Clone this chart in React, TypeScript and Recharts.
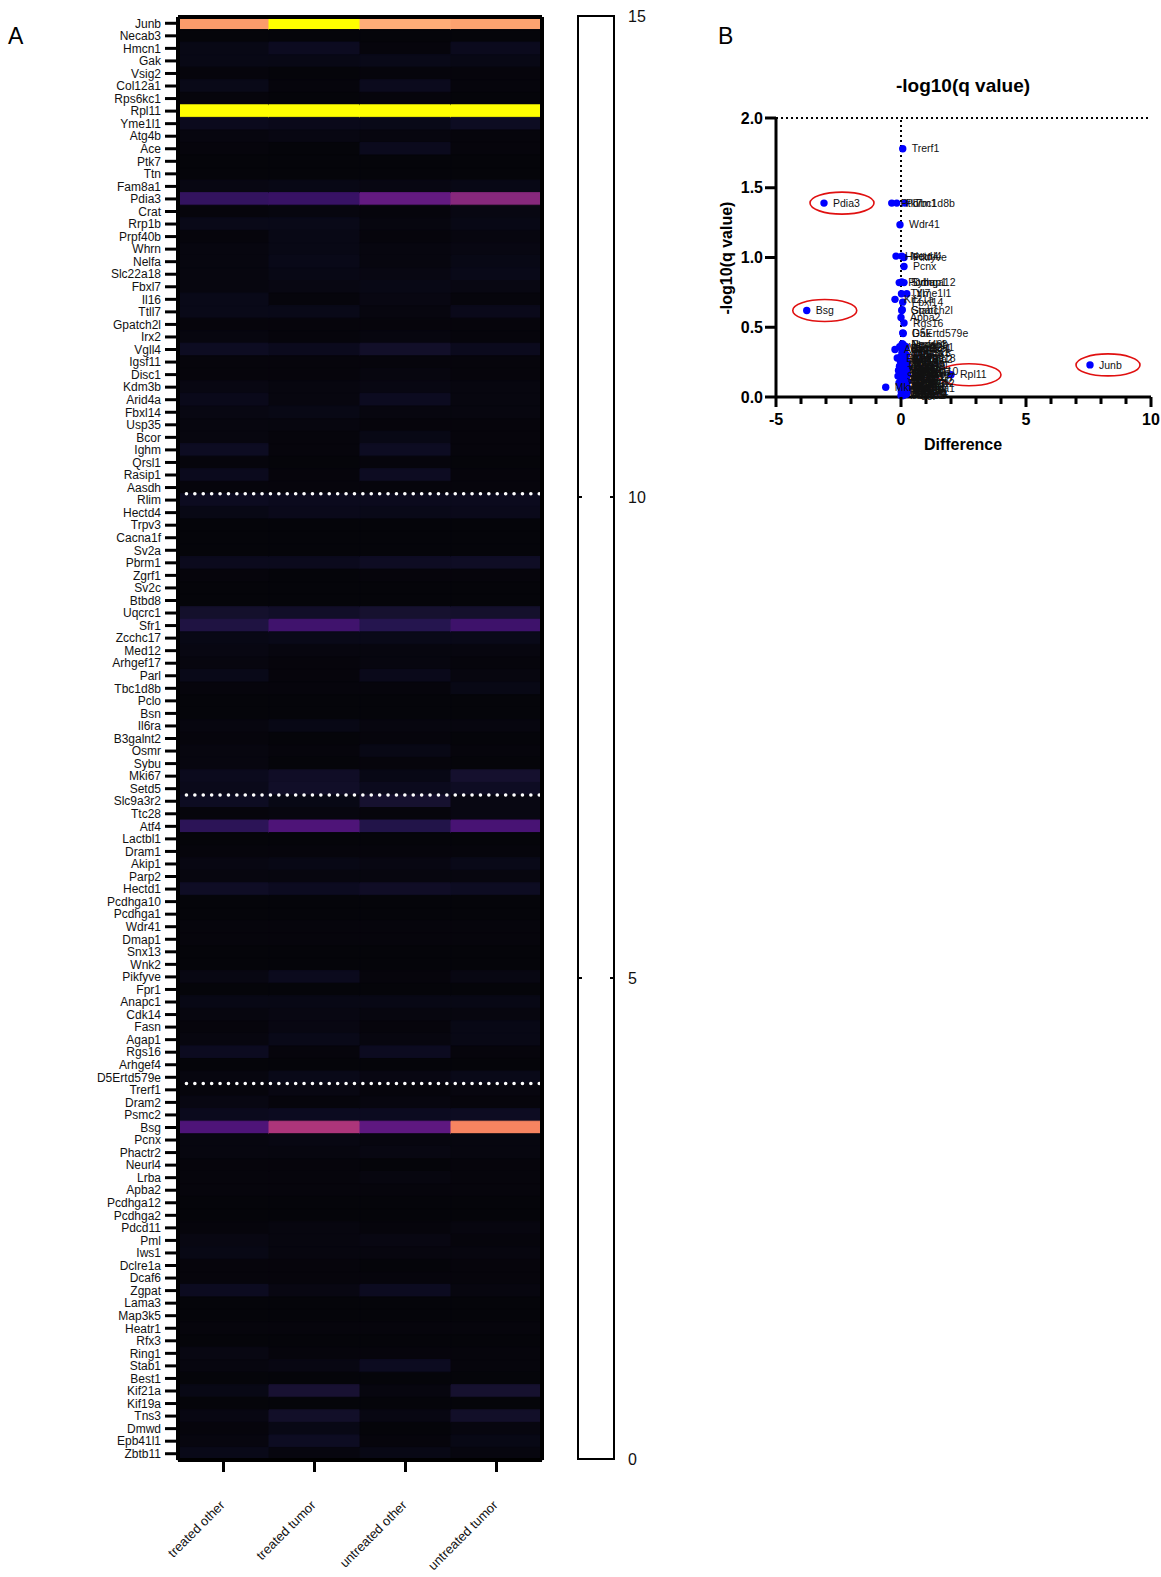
import React from 'react';
import {
  BarChart,
  Bar,
  Cell,
  XAxis,
  YAxis,
  ReferenceLine,
  ScatterChart,
  Scatter,
  LabelList,
} from 'recharts';

// ---- heatmap data (rows top to bottom) ----
const genes = [
  'Junb', 'Necab3', 'Hmcn1', 'Gak', 'Vsig2', 'Col12a1', 'Rps6kc1', 'Rpl11', 'Yme1l1', 'Atg4b',
  'Ace', 'Ptk7', 'Ttn', 'Fam8a1', 'Pdia3', 'Crat', 'Rrp1b', 'Prpf40b', 'Whrn', 'Nelfa',
  'Slc22a18', 'Fbxl7', 'Il16', 'Ttll7', 'Gpatch2l', 'Irx2', 'Vgll4', 'Igsf11', 'Disc1', 'Kdm3b',
  'Arid4a', 'Fbxl14', 'Usp35', 'Bcor', 'Ighm', 'Qrsl1', 'Rasip1', 'Aasdh', 'Rlim', 'Hectd4',
  'Trpv3', 'Cacna1f', 'Sv2a', 'Pbrm1', 'Zgrf1', 'Sv2c', 'Btbd8', 'Uqcrc1', 'Sfr1', 'Zcchc17',
  'Med12', 'Arhgef17', 'Parl', 'Tbc1d8b', 'Pclo', 'Bsn', 'Il6ra', 'B3galnt2', 'Osmr', 'Sybu',
  'Mki67', 'Setd5', 'Slc9a3r2', 'Ttc28', 'Atf4', 'Lactbl1', 'Dram1', 'Akip1', 'Parp2', 'Hectd1',
  'Pcdhga10', 'Pcdhga1', 'Wdr41', 'Dmap1', 'Snx13', 'Wnk2', 'Pikfyve', 'Fpr1', 'Anapc1', 'Cdk14',
  'Fasn', 'Agap1', 'Rgs16', 'Arhgef4', 'D5Ertd579e', 'Trerf1', 'Dram2', 'Psmc2', 'Bsg', 'Pcnx',
  'Phactr2', 'Neurl4', 'Lrba', 'Apba2', 'Pcdhga12', 'Pcdhga2', 'Pdcd11', 'Pml', 'Iws1', 'Dclre1a',
  'Dcaf6', 'Zgpat', 'Lama3', 'Map3k5', 'Heatr1', 'Rfx3', 'Ring1', 'Stab1', 'Best1', 'Kif21a',
  'Kif19a', 'Tns3', 'Dmwd', 'Epb41l1', 'Zbtb11',
];

const columns = ['treated other', 'treated tumor', 'untreated other', 'untreated tumor'];

const treatedOther = [
  11.8, 0.1, 0.3, 0.3, 0.15, 0.35, 0.15, 15, 0.45, 0.2,
  0.15, 0.1, 0.1, 0.25, 2.8, 0.15, 0.35, 0.15, 0.2, 0.2,
  0.2, 0.2, 0.35, 0.35, 0.15, 0.2, 0.55, 0.15, 0.15, 0.25,
  0.4, 0.25, 0.2, 0.2, 0.55, 0.15, 0.45, 0.15, 0.5, 0.3,
  0.1, 0.1, 0.1, 0.45, 0.15, 0.1, 0.1, 0.9, 1.6, 0.3,
  0.25, 0.2, 0.35, 0.15, 0.1, 0.1, 0.2, 0.15, 0.2, 0.2,
  0.45, 0.4, 0.55, 0.15, 2.4, 0.1, 0.15, 0.25, 0.2, 0.65,
  0.1, 0.1, 0.15, 0.15, 0.1, 0.1, 0.25, 0.1, 0.3, 0.2,
  0.15, 0.2, 0.5, 0.1, 0.2, 0.15, 0.25, 0.45, 4.2, 0.2,
  0.2, 0.15, 0.15, 0.15, 0.1, 0.1, 0.15, 0.25, 0.3, 0.15,
  0.15, 0.5, 0.1, 0.1, 0.15, 0.1, 0.25, 0.2, 0.1, 0.3,
  0.1, 0.25, 0.15, 0.2, 0.35,
];
const treatedTumor = [
  15, 0.1, 0.5, 0.3, 0.1, 0.15, 0.1, 15, 0.4, 0.25,
  0.1, 0.1, 0.1, 0.3, 3.1, 0.2, 0.35, 0.3, 0.3, 0.35,
  0.3, 0.25, 0.15, 0.35, 0.15, 0.15, 0.45, 0.15, 0.15, 0.2,
  0.2, 0.3, 0.2, 0.15, 0.15, 0.1, 0.15, 0.15, 0.45, 0.4,
  0.1, 0.1, 0.1, 0.45, 0.1, 0.1, 0.1, 0.75, 3.5, 0.35,
  0.2, 0.15, 0.15, 0.15, 0.1, 0.1, 0.3, 0.1, 0.15, 0.1,
  0.7, 0.75, 0.3, 0.2, 4.2, 0.1, 0.15, 0.3, 0.2, 0.5,
  0.1, 0.1, 0.15, 0.15, 0.1, 0.1, 0.45, 0.1, 0.3, 0.25,
  0.25, 0.35, 0.15, 0.1, 0.35, 0.25, 0.15, 0.5, 7.8, 0.25,
  0.2, 0.15, 0.15, 0.15, 0.1, 0.1, 0.2, 0.2, 0.2, 0.15,
  0.15, 0.25, 0.1, 0.1, 0.15, 0.1, 0.15, 0.25, 0.1, 1.1,
  0.1, 0.8, 0.3, 0.55, 0.2,
];
const untreatedOther = [
  12.8, 0.1, 0.15, 0.35, 0.15, 0.45, 0.15, 15, 0.35, 0.2,
  0.45, 0.1, 0.1, 0.25, 5.2, 0.15, 0.2, 0.15, 0.2, 0.2,
  0.25, 0.3, 0.25, 0.2, 0.15, 0.2, 0.8, 0.15, 0.2, 0.25,
  0.5, 0.2, 0.15, 0.3, 0.55, 0.15, 0.55, 0.15, 0.45, 0.35,
  0.1, 0.1, 0.1, 0.6, 0.15, 0.1, 0.1, 1.0, 2.0, 0.35,
  0.2, 0.2, 0.4, 0.15, 0.1, 0.1, 0.2, 0.15, 0.3, 0.15,
  0.3, 0.45, 1.0, 0.15, 1.8, 0.1, 0.15, 0.25, 0.2, 0.7,
  0.1, 0.1, 0.15, 0.15, 0.1, 0.1, 0.15, 0.1, 0.3, 0.2,
  0.15, 0.2, 0.5, 0.1, 0.25, 0.15, 0.2, 0.5, 5.0, 0.2,
  0.25, 0.1, 0.2, 0.15, 0.1, 0.1, 0.15, 0.25, 0.2, 0.1,
  0.15, 0.5, 0.1, 0.1, 0.15, 0.1, 0.15, 0.5, 0.1, 0.2,
  0.1, 0.25, 0.1, 0.15, 0.3,
];
const untreatedTumor = [
  12.2, 0.1, 0.45, 0.3, 0.15, 0.15, 0.1, 15, 0.55, 0.15,
  0.15, 0.1, 0.1, 0.3, 6.8, 0.25, 0.3, 0.2, 0.25, 0.3,
  0.35, 0.25, 0.15, 0.4, 0.15, 0.15, 0.45, 0.15, 0.15, 0.2,
  0.2, 0.2, 0.15, 0.15, 0.15, 0.1, 0.15, 0.15, 0.45, 0.4,
  0.1, 0.1, 0.1, 0.65, 0.15, 0.1, 0.1, 0.9, 3.4, 0.35,
  0.2, 0.15, 0.2, 0.3, 0.1, 0.1, 0.2, 0.1, 0.15, 0.1,
  0.95, 0.6, 0.25, 0.25, 3.9, 0.1, 0.15, 0.35, 0.2, 0.55,
  0.1, 0.1, 0.15, 0.15, 0.1, 0.1, 0.25, 0.1, 0.3, 0.2,
  0.3, 0.3, 0.15, 0.1, 0.35, 0.2, 0.15, 0.55, 10.8, 0.2,
  0.2, 0.15, 0.15, 0.15, 0.1, 0.1, 0.2, 0.15, 0.2, 0.15,
  0.15, 0.2, 0.1, 0.1, 0.15, 0.1, 0.15, 0.15, 0.1, 1.0,
  0.1, 0.8, 0.2, 0.3, 0.2,
];

// dotted separators sit above these rows
const separatorRows = ['Rlim', 'Slc9a3r2', 'Trerf1'];
const colorbarTicks = [0, 5, 10, 15];
const colorbarRange = [{ name: 'scale', top: 15 }];

// ---- volcano data, same order as genes ----
const volcanoDiff = [
  7.56, 0.05, 0.12, 0.07, -0.05, 0.2, 0.02, 2.0, 0.23, 0.08,
  -0.24, -0.37, 0.15, 0.04, -3.08, 0.1, 0.22, 0.06, 0.0, 0.13,
  0.07, 0.18, -0.03, 0.02, 0.03, 0.1, 0.25, 0.01, 0.14, 0.06,
  0.2, 0.07, -0.06, 0.11, 0.3, 0.03, 0.17, 0.08, 0.24, -0.2,
  -0.1, 0.05, 0.13, -0.17, 0.02, 0.19, 0.09, 0.27, -0.12, 0.04,
  0.15, 0.07, 0.22, 0.16, 0.0, 0.11, 0.18, 0.05, 0.26, 0.03,
  -0.61, -0.08, 0.13, 0.03, 0.2, 0.08, 0.16, -0.02, 0.23, 0.1,
  0.04, 0.14, -0.04, 0.12, 0.06, 0.19, 0.12, 0.01, 0.12, 0.25,
  0.07, 0.16, 0.12, 0.03, 0.09, 0.07, 0.21, 0.09, -3.77, 0.12,
  0.0, 0.03, 0.13, 0.0, -0.07, 0.05, 0.17, 0.02, 0.21, 0.1,
  0.06, 0.28, 0.04, 0.14, 0.08, 0.22, 0.01, 0.05, 0.11, -0.24,
  0.18, 0.07, 0.15, -0.15, 0.12,
];
const volcanoQ = [
  0.23, 0.38, 0.37, 0.46, 0.36, 0.36, 0.35, 0.16, 0.74, 0.34,
  0.34, 1.39, 0.33, 0.32, 1.39, 0.31, 0.3, 0.38, 0.29, 0.28,
  0.28, 0.27, 0.26, 0.74, 0.62, 0.26, 0.25, 0.25, 0.24, 0.24,
  0.23, 0.68, 0.22, 0.22, 0.21, 0.21, 0.2, 0.2, 0.19, 1.01,
  0.19, 0.18, 0.18, 1.39, 0.17, 0.17, 0.16, 0.16, 0.15, 0.15,
  0.14, 0.14, 0.13, 1.39, 0.13, 0.12, 0.12, 0.11, 0.11, 0.825,
  0.07, 0.1, 0.1, 0.09, 0.09, 0.08, 0.08, 0.07, 0.07, 0.06,
  0.185, 0.06, 1.235, 0.82, 0.05, 0.05, 1.0, 0.04, 0.04, 0.03,
  0.03, 0.02, 0.53, 0.02, 0.455, 1.78, 0.02, 0.01, 0.62, 0.935,
  0.01, 1.01, 0.3, 0.57, 0.82, 0.27, 0.23, 0.2, 0.15, 0.1,
  0.13, 0.06, 0.35, 0.31, 0.17, 0.04, 0.12, 0.625, 0.08, 0.7,
  0.25, 0.01, 0.19, 0.28, 0.14,
];
const circledGenes = ['Pdia3', 'Bsg', 'Junb', 'Rpl11'];
const diffTicks = [-5, -4, -3, -2, -1, 0, 1, 2, 3, 4, 5, 6, 7, 8, 9, 10];
const qTicks = [0, 0.5, 1, 1.5, 2];

// colour map roughly matching the figure (black -> purple -> orange -> yellow)
const heatStops: [number, string][] = [
  [0, '#030304'], [0.5, '#0c0b20'], [1, '#16112f'], [2, '#25154f'], [3, '#361263'],
  [4, '#4a1376'], [5, '#5e1880'], [6, '#75207e'], [7, '#8c2a7c'], [8, '#b5387a'],
  [9, '#d54a6e'], [10, '#ef6a60'], [11, '#f98a60'], [12, '#fba06e'], [13, '#ffb07a'],
  [14, '#ffd84a'], [15, '#ffff00'],
];

const rgb = (h: string) => [1, 3, 5].map(i => parseInt(h.slice(i, i + 2), 16));

function heatColor(v: number) {
  const val = Math.max(0, Math.min(15, v));
  for (let i = 1; i < heatStops.length; i++) {
    const [v1, c1] = heatStops[i];
    const [v0, c0] = heatStops[i - 1];
    if (val <= v1) {
      const t = (val - v0) / (v1 - v0);
      const a = rgb(c0);
      const b = rgb(c1);
      const m = a.map((x, k) => Math.round(x + (b[k] - x) * t));
      return `rgb(${m[0]},${m[1]},${m[2]})`;
    }
  }
  return heatStops[heatStops.length - 1][1];
}

const columnValues = [treatedOther, treatedTumor, untreatedOther, untreatedTumor];
const heatRows = genes.map(g => ({ gene: g }));
const volcanoData = genes.map((g, i) => ({ gene: g, diff: volcanoDiff[i], q: volcanoQ[i] }));
const circledData = volcanoData.filter(d => circledGenes.includes(d.gene));

const ColumnTick = (props: any) => {
  const { x, y, payload } = props;
  const label = columns[Math.floor(payload.value)];
  const ax = x + 2;
  const ay = y + 32;
  return (
    <text x={ax} y={ay} transform={`rotate(-45 ${ax} ${ay})`} textAnchor="end" fontSize={13} fill="#111">
      {label}
    </text>
  );
};

const ColorbarTick = (props: any) => {
  const { x, y, payload } = props;
  return (
    <g>
      <line x1={x - 4} x2={x} y1={y} y2={y} stroke="#000" strokeWidth={2} />
      <line x1={x - 36} x2={x - 32} y1={y} y2={y} stroke="#000" strokeWidth={2} />
      <text x={x + 14} y={y + 6} fontSize={16} fill="#111">
        {payload.value}
      </text>
    </g>
  );
};

const DiffTick = (props: any) => {
  const { x, y, payload } = props;
  const v = payload.value;
  const major = v % 5 === 0;
  return (
    <g>
      <line x1={x} x2={x} y1={y} y2={y + (major ? 10 : 7)} stroke="#000" strokeWidth={3} />
      {major && (
        <text x={x} y={y + 28} textAnchor="middle" fontSize={16} fontWeight={700} fill="#000">
          {v}
        </text>
      )}
    </g>
  );
};

const Dot = (p: any) => <circle cx={p.cx} cy={p.cy} r={3.7} fill="#0000ff" />;
const Ring = (p: any) => (
  <ellipse cx={p.cx + 18} cy={p.cy} rx={32} ry={11} fill="none" stroke="#e01010" strokeWidth={1.6} />
);

const App = () => {
  return (
    <div
      style={{
        position: 'absolute',
        left: 0,
        top: 0,
        width: 1161,
        height: 1577,
        background: '#fff',
        fontFamily: "'Liberation Sans', Arial, sans-serif",
      }}
    >
      {/* A: heatmap */}
      <div style={{ position: 'absolute', left: 0, top: 0 }}>
        <BarChart
          width={620}
          height={1577}
          data={heatRows}
          layout="vertical"
          barCategoryGap={0}
          margin={{ top: 15, right: 76, bottom: 0, left: 0 }}
        >
          <XAxis
            xAxisId="b"
            type="number"
            domain={[0, 4]}
            ticks={[0.5, 1.5, 2.5, 3.5]}
            interval={0}
            height={117}
            tickSize={12}
            tickMargin={2}
            axisLine={{ stroke: '#000', strokeWidth: 4 }}
            tickLine={{ stroke: '#000', strokeWidth: 3 }}
            tick={<ColumnTick />}
          />
          <XAxis
            xAxisId="t"
            orientation="top"
            type="number"
            domain={[0, 4]}
            height={2}
            tick={false}
            tickLine={false}
            axisLine={{ stroke: '#000', strokeWidth: 4 }}
          />
          <YAxis
            type="category"
            dataKey="gene"
            width={178}
            interval={0}
            tickSize={13}
            tickMargin={4}
            axisLine={{ stroke: '#000', strokeWidth: 4 }}
            tickLine={{ stroke: '#000', strokeWidth: 3 }}
            tick={{ fontSize: 12, fill: '#111' }}
          />
          <YAxis
            yAxisId="r"
            orientation="right"
            type="category"
            dataKey="gene"
            width={2}
            tick={false}
            tickLine={false}
            axisLine={{ stroke: '#000', strokeWidth: 4 }}
          />
          {columns.map((c, ci) => (
            <Bar key={c} dataKey={() => 1} stackId="h" xAxisId="b" isAnimationActive={false}>
              {heatRows.map((r, i) => {
                const col = heatColor(columnValues[ci][i]);
                return <Cell key={r.gene} fill={col} stroke={col} strokeWidth={1} />;
              })}
            </Bar>
          ))}
          {separatorRows.map(g => (
            <ReferenceLine
              key={g}
              y={g}
              xAxisId="b"
              position="start"
              stroke="#fff"
              strokeWidth={3.5}
              strokeDasharray="0.1 8.3"
              strokeLinecap="round"
            />
          ))}
        </BarChart>
      </div>

      {/* colour bar */}
      <div style={{ position: 'absolute', left: 560, top: 0 }}>
        <BarChart
          width={100}
          height={1577}
          data={colorbarRange}
          barCategoryGap={0}
          margin={{ top: 16, right: 0, bottom: 118, left: 18 }}
        >
          <XAxis type="category" dataKey="name" hide />
          <YAxis
            orientation="right"
            type="number"
            domain={[0, 15]}
            ticks={colorbarTicks}
            width={46}
            tickSize={0}
            tickMargin={0}
            axisLine={false}
            tickLine={false}
            tick={<ColorbarTick />}
          />
          <Bar dataKey="top" fill="#fff" stroke="#000" strokeWidth={2} isAnimationActive={false} />
        </BarChart>
      </div>

      {/* B: volcano */}
      <div style={{ position: 'absolute', left: 700, top: 0 }}>
        <ScatterChart width={461} height={470} margin={{ top: 118, right: 10, bottom: 0, left: 0 }}>
          <XAxis
            type="number"
            dataKey="diff"
            domain={[-5, 10]}
            ticks={diffTicks}
            interval={0}
            height={73}
            tickSize={0}
            tickMargin={0}
            tickLine={false}
            axisLine={{ stroke: '#000', strokeWidth: 3 }}
            tick={<DiffTick />}
          />
          <YAxis
            type="number"
            dataKey="q"
            domain={[0, 2]}
            ticks={qTicks}
            interval={0}
            width={76}
            tickSize={11}
            tickMargin={2}
            tickFormatter={(v: number) => v.toFixed(1)}
            axisLine={{ stroke: '#000', strokeWidth: 3 }}
            tickLine={{ stroke: '#000', strokeWidth: 3 }}
            tick={{ fontSize: 16, fontWeight: 700, fill: '#000' }}
          />
          <ReferenceLine y={2} stroke="#000" strokeWidth={2} strokeDasharray="2 3" />
          <ReferenceLine x={0} stroke="#000" strokeWidth={2} strokeDasharray="2 3" />
          <Scatter data={volcanoData} shape={<Dot />} isAnimationActive={false}>
            <LabelList dataKey="gene" position="right" offset={4.5} fontSize={10.5} fill="#111" />
          </Scatter>
          <Scatter data={circledData} shape={<Ring />} isAnimationActive={false} />
        </ScatterChart>
      </div>

      {/* panel letters and titles */}
      <svg width={1161} height={1577} style={{ position: 'absolute', left: 0, top: 0, pointerEvents: 'none' }}>
        <text x={8} y={44} fontSize={23} fill="#000">A</text>
        <text x={718} y={44} fontSize={23} fill="#000">B</text>
        <text x={963} y={92} textAnchor="middle" fontSize={19} fontWeight={700} fill="#000">
          -log10(q value)
        </text>
        <text x={963} y={450} textAnchor="middle" fontSize={16} fontWeight={700} fill="#000">
          Difference
        </text>
        <text
          x={732}
          y={258}
          textAnchor="middle"
          fontSize={16}
          fontWeight={700}
          fill="#000"
          transform="rotate(-90 732 258)"
        >
          -log10(q value)
        </text>
      </svg>
    </div>
  );
};

export default App;
